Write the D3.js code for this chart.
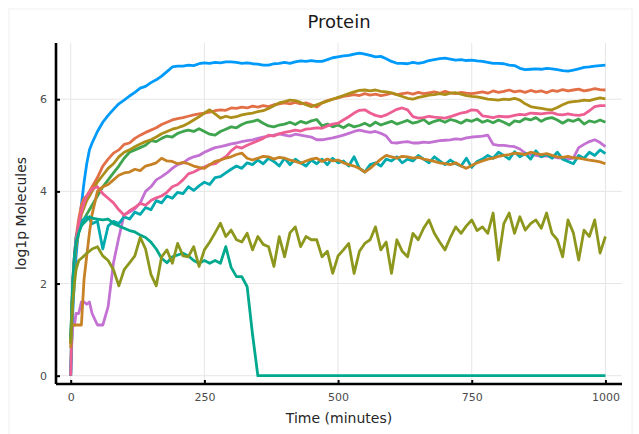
<!DOCTYPE html>
<html>
<head>
<meta charset="utf-8">
<script src="https://d3js.org/d3.v7.min.js"></script>
<style>
  body { margin: 0; background: #fff; }
  svg { font-family: "DejaVu Sans", sans-serif; }
  .grid line { stroke: #e6e6e6; stroke-width: 1px; }
  .series { fill: none; stroke-width: 2.8px; stroke-linejoin: round; }
</style>
</head>
<body>
<svg width="639" height="434"></svg>
<script>
// sample times (minutes)
const times = [0,2,4,7,10,15,20,25,30,35,40,
  50,60,70,80,90,100,110,120,130,140,
  150,160,170,180,190,200,210,220,230,240,
  250,260,270,280,290,300,310,320,330,340,
  350,360,370,380,390,400,410,420,430,440,
  450,460,470,480,490,500,510,520,530,540,
  550,560,570,580,590,600,610,620,630,640,
  650,660,670,680,690,700,710,720,730,740,
  750,760,770,780,790,800,810,820,830,840,
  850,860,870,880,890,900,910,920,930,940,
  950,960,970,980,990,1000];

const s1 = [0,0.8,1.4,2.1,2.6,3.2,3.7,4.2,4.6,4.9,5.05,
  5.3,5.5,5.65,5.78,5.9,5.98,6.07,6.15,6.24,6.28,
  6.36,6.42,6.5,6.6,6.7,6.72,6.72,6.74,6.73,6.77,
  6.79,6.78,6.8,6.79,6.81,6.81,6.8,6.78,6.79,6.77,
  6.76,6.74,6.74,6.77,6.78,6.8,6.78,6.81,6.83,6.82,
  6.84,6.82,6.82,6.86,6.9,6.92,6.94,6.95,6.98,7.0,
  6.98,6.95,6.92,6.93,6.88,6.82,6.78,6.78,6.77,6.8,
  6.78,6.8,6.84,6.86,6.88,6.89,6.87,6.85,6.86,6.84,
  6.85,6.83,6.82,6.8,6.78,6.78,6.77,6.74,6.73,6.67,
  6.64,6.65,6.66,6.65,6.67,6.66,6.64,6.62,6.61,6.63,
  6.66,6.69,6.7,6.72,6.73,6.74];
const s2 = [0.7,1.4,2.0,2.6,3.0,3.4,3.7,3.85,3.9,4.0,4.1,
  4.3,4.55,4.7,4.83,4.9,5.02,5.05,5.15,5.22,5.28,
  5.33,5.38,5.45,5.5,5.55,5.58,5.6,5.63,5.66,5.68,
  5.7,5.72,5.75,5.77,5.76,5.81,5.8,5.83,5.81,5.85,
  5.83,5.86,5.84,5.88,5.9,5.92,5.9,5.93,5.9,5.92,
  5.88,5.83,5.92,5.97,6.0,6.03,6.06,6.08,6.1,6.08,
  6.12,6.09,6.11,6.08,6.1,6.13,6.1,6.12,6.14,6.11,
  6.15,6.12,6.14,6.16,6.13,6.17,6.14,6.12,6.15,6.13,
  6.12,6.14,6.16,6.13,6.18,6.15,6.17,6.2,6.16,6.18,
  6.15,6.19,6.16,6.18,6.14,6.19,6.17,6.21,6.18,6.2,
  6.22,6.18,6.2,6.23,6.21,6.2];
const s3 = [0.8,1.4,2.0,2.5,2.8,3.1,3.3,3.4,3.5,3.6,3.7,
  3.9,4.1,4.25,4.4,4.55,4.72,4.85,4.9,4.95,5.0,
  5.1,5.08,5.15,5.2,5.18,5.26,5.3,5.33,5.3,5.36,
  5.3,5.24,5.22,5.3,5.35,5.4,5.38,5.45,5.5,5.52,
  5.55,5.48,5.42,5.4,5.44,5.46,5.5,5.45,5.52,5.48,
  5.53,5.56,5.42,5.46,5.4,5.44,5.38,5.45,5.4,5.43,
  5.48,5.42,5.5,5.44,5.48,5.52,5.46,5.5,5.54,5.48,
  5.51,5.56,5.47,5.52,5.55,5.5,5.56,5.53,5.48,5.55,
  5.52,5.57,5.5,5.54,5.49,5.55,5.5,5.44,5.53,5.51,
  5.58,5.55,5.6,5.52,5.58,5.6,5.55,5.48,5.55,5.52,
  5.57,5.46,5.53,5.5,5.55,5.5];
const s4 = [0,0.7,1.1,1.1,1.35,1.35,1.6,1.6,1.55,1.6,1.35,
  1.1,1.1,1.5,2.45,3.0,3.5,3.55,3.62,3.75,4.0,
  4.1,4.25,4.32,4.4,4.5,4.58,4.62,4.7,4.75,4.78,
  4.85,4.9,4.95,4.97,5.0,5.03,5.05,5.08,5.1,5.12,
  5.15,5.18,5.2,5.22,5.25,5.22,5.2,5.24,5.22,5.2,
  5.18,5.12,5.12,5.14,5.16,5.19,5.22,5.26,5.3,5.33,
  5.3,5.28,5.3,5.26,5.2,5.06,5.05,5.07,5.08,5.05,
  5.05,5.07,5.06,5.08,5.1,5.11,5.12,5.14,5.13,5.16,
  5.18,5.19,5.2,5.22,5.02,5.0,5.0,4.98,4.97,4.92,
  4.83,4.8,4.78,4.76,4.77,4.75,4.73,4.72,4.7,4.72,
  4.95,5.02,5.08,5.12,5.06,4.97];
const s5 = [0.7,1.3,2.0,2.5,2.8,3.2,3.5,3.65,3.8,3.9,4.0,
  4.2,4.35,4.5,4.6,4.75,4.85,4.9,4.97,5.03,5.08,
  5.12,5.18,5.25,5.3,5.35,5.38,5.42,5.48,5.55,5.62,
  5.7,5.77,5.68,5.59,5.63,5.6,5.62,5.66,5.68,5.7,
  5.73,5.75,5.8,5.86,5.92,5.95,5.98,5.97,5.93,5.88,
  5.84,5.88,5.92,5.96,6.0,6.04,6.08,6.12,6.16,6.19,
  6.2,6.18,6.2,6.17,6.16,6.14,6.1,6.06,6.02,6.0,
  6.04,6.06,6.09,6.1,6.12,6.1,6.13,6.14,6.11,6.08,
  6.06,6.05,6.03,6.0,5.99,5.98,6.0,5.99,6.02,5.98,
  5.9,5.84,5.82,5.8,5.78,5.77,5.82,5.88,5.93,5.95,
  5.96,5.98,5.97,6.0,6.03,6.01];
const s6 = [0,1.2,2.0,2.6,3.0,3.2,3.35,3.4,3.45,3.4,3.3,
  3.35,2.75,3.25,3.35,3.3,3.45,3.4,3.55,3.5,3.65,
  3.6,3.8,3.75,3.9,3.85,3.98,3.95,4.1,4.02,4.12,
  4.2,4.15,4.3,4.32,4.4,4.48,4.55,4.5,4.62,4.58,
  4.68,4.6,4.72,4.65,4.55,4.72,4.58,4.7,4.62,4.55,
  4.68,4.6,4.7,4.58,4.72,4.62,4.66,4.55,4.75,4.5,
  4.42,4.58,4.62,4.55,4.7,4.66,4.75,4.62,4.7,4.66,
  4.78,4.7,4.62,4.75,4.66,4.58,4.68,4.6,4.55,4.72,
  4.52,4.65,4.7,4.78,4.72,4.85,4.78,4.7,4.86,4.75,
  4.82,4.7,4.88,4.75,4.8,4.72,4.85,4.7,4.65,4.6,
  4.78,4.72,4.85,4.78,4.9,4.82];
const s7 = [0,1.2,2.1,2.6,2.95,3.3,3.55,3.75,3.9,3.97,4.05,
  4.1,3.95,3.85,3.75,3.6,3.48,3.58,3.65,3.74,3.7,
  3.8,3.86,3.9,3.98,4.1,4.15,4.25,4.38,4.42,4.48,
  4.53,4.58,4.6,4.68,4.75,4.88,4.97,4.94,5.0,5.05,
  5.1,5.15,5.22,5.2,5.25,5.28,5.3,5.33,5.31,5.35,
  5.36,5.38,5.37,5.42,5.46,5.48,5.55,5.62,5.7,5.76,
  5.77,5.7,5.65,5.62,5.66,5.72,5.78,5.81,5.77,5.62,
  5.59,5.6,5.63,5.61,5.6,5.59,5.62,5.66,5.7,5.72,
  5.77,5.76,5.64,5.62,5.6,5.63,5.62,5.62,5.65,5.67,
  5.66,5.7,5.69,5.68,5.7,5.71,5.67,5.66,5.68,5.66,
  5.65,5.67,5.75,5.84,5.86,5.86];
const s8 = [0.6,1.1,1.1,1.1,1.1,1.1,1.1,2.1,2.6,3.1,3.5,
  4.0,4.1,4.15,4.25,4.35,4.4,4.42,4.48,4.45,4.55,
  4.58,4.62,4.72,4.66,4.65,4.6,4.63,4.6,4.55,4.52,
  4.5,4.58,4.65,4.68,4.72,4.75,4.8,4.83,4.72,4.68,
  4.72,4.76,4.75,4.7,4.74,4.72,4.68,4.65,4.61,4.66,
  4.7,4.72,4.65,4.7,4.66,4.68,4.62,4.58,4.55,4.5,
  4.42,4.5,4.6,4.7,4.78,4.75,4.72,4.76,4.75,4.72,
  4.74,4.7,4.68,4.65,4.62,4.6,4.58,4.62,4.55,4.5,
  4.56,4.62,4.66,4.7,4.72,4.76,4.78,4.8,4.83,4.82,
  4.8,4.85,4.82,4.8,4.82,4.78,4.75,4.74,4.76,4.73,
  4.72,4.7,4.68,4.66,4.64,4.6];
const s9 = [0.8,1.5,2.1,2.6,2.9,3.1,3.25,3.32,3.38,3.45,3.42,
  3.4,3.38,3.4,3.3,3.25,3.2,3.15,3.12,3.05,3.0,
  2.9,2.75,2.55,2.45,2.58,2.62,2.66,2.6,2.5,2.44,
  2.5,2.44,2.5,2.44,2.8,2.35,2.15,2.15,1.93,0.9,
  0,0,0,0,0,0,0,0,0,0,
  0,0,0,0,0,0,0,0,0,0,
  0,0,0,0,0,0,0,0,0,0,
  0,0,0,0,0,0,0,0,0,0,
  0,0,0,0,0,0,0,0,0,0,
  0,0,0,0,0,0,0,0,0,0,
  0,0,0,0,0,0];
const s10 = [0.7,1.2,1.6,2.0,2.3,2.5,2.55,2.6,2.66,2.7,2.75,
  2.8,2.6,2.5,2.3,1.95,2.3,2.45,2.6,3.0,2.75,
  2.2,1.95,2.58,2.73,2.44,2.87,2.6,2.58,2.8,2.37,
  2.73,2.9,3.1,3.31,3.02,3.16,2.95,2.9,3.09,2.73,
  3.02,2.85,2.8,2.37,3.02,2.58,3.1,3.23,2.8,3.02,
  2.95,2.95,2.58,2.7,2.22,2.6,2.73,2.87,2.22,2.7,
  2.87,2.95,3.23,2.73,2.9,2.22,2.95,2.7,2.58,3.09,
  2.95,3.2,3.38,3.09,2.9,2.73,3.0,3.23,3.09,3.25,
  3.38,3.15,3.23,3.09,3.53,2.51,3.3,3.53,3.09,3.45,
  3.16,3.3,3.38,3.2,3.53,3.09,2.95,2.58,3.38,3.1,
  2.51,3.16,3.02,3.38,2.66,3.02];

const seriesValues = [s1, s2, s3, s4, s5, s6, s7, s8, s9, s10];
const colors = ["#009AFA","#E36F47","#3EA44E","#C371D2","#AC8E18",
                "#00AAAE","#ED5E93","#C68225","#00A98D","#8E971D"];
const xTicks = [0, 250, 500, 750, 1000];
const yTicks = [0, 2, 4, 6];

const svg = d3.select("svg");
const plotLeft = 56, plotRight = 622, plotTop = 43, plotBottom = 384;

const x = d3.scaleLinear().domain([-27.5, 1031]).range([plotLeft, plotRight]);
const y = d3.scaleLinear().domain([-0.18, 7.22]).range([plotBottom, plotTop]);

// faint outer frame of the screenshot
svg.append("rect").attr("x", 9).attr("y", 9).attr("width", 623).attr("height", 440)
  .attr("fill", "none").attr("stroke", "#f0f0f0");

// grid
const grid = svg.append("g").attr("class", "grid");
grid.selectAll(".gx").data(xTicks).enter().append("line")
  .attr("x1", d => x(d)).attr("x2", d => x(d)).attr("y1", plotTop).attr("y2", plotBottom);
grid.selectAll(".gy").data(yTicks).enter().append("line")
  .attr("x1", plotLeft).attr("x2", plotRight).attr("y1", d => y(d)).attr("y2", d => y(d));

// series
const line = d3.line().x((d, i) => x(times[i])).y(d => y(d));
svg.append("g").selectAll("path").data(seriesValues).enter().append("path")
  .attr("class", "series")
  .attr("stroke", (d, i) => colors[i])
  .attr("d", d => line(d));

// axes
const xAxis = d3.axisBottom(x).tickValues(xTicks).tickFormat(d3.format("d"))
  .tickSize(-4).tickPadding(9);
const gx = svg.append("g").attr("transform", `translate(0,${plotBottom})`).call(xAxis);
const yAxis = d3.axisLeft(y).tickValues(yTicks).tickFormat(d3.format("d"))
  .tickSize(-4).tickPadding(9);
const gy = svg.append("g").attr("transform", `translate(${plotLeft},0)`).call(yAxis);
[gx, gy].forEach(g => {
  g.select(".domain").attr("stroke", "#000").attr("stroke-width", 2.6);
  g.selectAll(".tick line").attr("stroke", "#000").attr("stroke-width", 2);
  g.selectAll(".tick text").attr("fill", "#4d4d4d").style("font-size", "11px")
    .style("font-family", "'DejaVu Sans', sans-serif");
});
gx.select(".domain").attr("d", `M${plotLeft},0H${plotRight}`);
gy.select(".domain").attr("d", `M0,${plotTop}V${plotBottom}`);

// labels
svg.append("text").attr("x", 339).attr("y", 28).attr("text-anchor", "middle")
  .style("font-size", "18px").attr("fill", "#1a1a1a").text("Protein");
svg.append("text").attr("x", 339).attr("y", 423).attr("text-anchor", "middle")
  .style("font-size", "14px").attr("fill", "#262626").text("Time (minutes)");
svg.append("text").attr("transform", "translate(26,213.5) rotate(-90)")
  .attr("text-anchor", "middle").style("font-size", "14px").attr("fill", "#262626")
  .text("log1p Molecules");
</script>
</body>
</html>
